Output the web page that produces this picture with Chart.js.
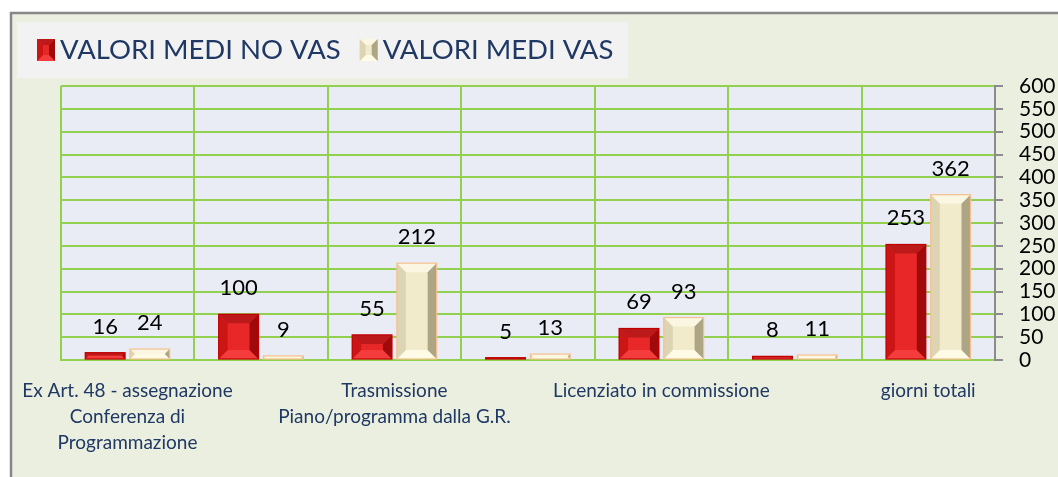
<!DOCTYPE html>
<html>
<head>
<meta charset="utf-8">
<script src="https://cdn.jsdelivr.net/npm/chart.js@4/dist/chart.umd.min.js"></script>
<style>
  html, body { margin: 0; padding: 0; background: #fff; }
  #wrap { position: absolute; left: 0; top: 0; width: 1058px; height: 477px; }
</style>
</head>
<body>
<div id="wrap"><canvas id="chart"></canvas></div>
<script>
// categorie (le etichette vuote sono quelle che Excel non mostra)
const categories = [
  ["Ex Art. 48 - assegnazione", "Conferenza di", "Programmazione"],
  "",
  ["Trasmissione", "Piano/programma dalla G.R."],
  "",
  "Licenziato in commissione",
  "",
  "giorni totali"
];
const seriesNames = ["VALORI MEDI NO VAS", "VALORI MEDI VAS"];
const noVas = [16, 100, 55, 5, 69, 8, 253];
const vas = [24, 9, 212, 13, 93, 11, 362];
const yTicks = { min: 0, max: 600, step: 50 };

const FONT = "Lato, 'Open Sans', sans-serif";
const NAVY = "#1F3864";
const GREEN = "#92D050";

// colori per l'effetto rilievo delle barre
const styles = [
  { base: "#E82828", left: "#CC1616", right: "#A00A0A", top: "#BC1A1A", bottom: "#F53C3C", border: "#C00000" },
  { base: "#F1EACB", left: "#DCD4B2", right: "#ADA584", top: "#FAF6E2", bottom: "#FFFBE6", border: "#F5C08E" }
];

// sfondo della cornice e dell'area del grafico
const backgroundPlugin = {
  id: "bg",
  beforeDraw(chart) {
    const ctx = chart.ctx;
    const a = chart.chartArea;
    ctx.save();
    ctx.fillStyle = "#ffffff";
    ctx.fillRect(0, 0, chart.width, chart.height);
    ctx.fillStyle = "#EBEFDF";
    ctx.fillRect(11, 13, chart.width - 11, chart.height - 13);
    ctx.strokeStyle = "#878787";
    ctx.lineWidth = 2.5;
    ctx.beginPath();
    ctx.moveTo(11, chart.height);
    ctx.lineTo(11, 13);
    ctx.lineTo(chart.width, 13);
    ctx.stroke();
    ctx.fillStyle = "#E9ECF5";
    ctx.fillRect(a.left, a.top, a.right - a.left, a.bottom - a.top);
    ctx.restore();
  }
};

function bevelRect(ctx, x, y, w, h, b, s) {
  ctx.fillStyle = s.base;
  ctx.fillRect(x, y, w, h);
  const poly = (pts, c) => {
    ctx.fillStyle = c;
    ctx.beginPath();
    ctx.moveTo(pts[0][0], pts[0][1]);
    for (let k = 1; k < pts.length; k++) ctx.lineTo(pts[k][0], pts[k][1]);
    ctx.closePath();
    ctx.fill();
  };
  const x1 = x + w, y1 = y + h;
  poly([[x, y], [x1, y], [x1 - b, y + b], [x + b, y + b]], s.top);
  poly([[x, y1], [x1, y1], [x1 - b, y1 - b], [x + b, y1 - b]], s.bottom);
  poly([[x, y], [x + b, y + b], [x + b, y1 - b], [x, y1]], s.left);
  poly([[x1, y], [x1 - b, y + b], [x1 - b, y1 - b], [x1, y1]], s.right);
}

// barre in rilievo + etichette dei valori
const barsPlugin = {
  id: "bars3d",
  afterDatasetsDraw(chart) {
    const ctx = chart.ctx;
    ctx.save();
    chart.data.datasets.forEach((ds, di) => {
      const meta = chart.getDatasetMeta(di);
      const s = styles[di];
      meta.data.forEach((el, i) => {
        const x0 = el.x - el.width / 2;
        const top = Math.min(el.y, el.base);
        const h = Math.abs(el.base - el.y);
        bevelRect(ctx, x0, top, el.width, h, Math.min(9, h / 2, el.width / 4), s);
        ctx.strokeStyle = s.border;
        ctx.lineWidth = 1.2;
        ctx.strokeRect(x0, top, el.width, h);

        ctx.fillStyle = "#000";
        ctx.font = "22px " + FONT;
        ctx.textAlign = "center";
        ctx.textBaseline = "alphabetic";
        ctx.fillText(String(ds.data[i]), el.x, el.y - 19);
      });
    });
    ctx.restore();
  }
};

// legenda disegnata nel riquadro grigio in alto
const legendPlugin = {
  id: "legendBox",
  afterDraw(chart) {
    const ctx = chart.ctx;
    ctx.save();
    ctx.fillStyle = "#F2F2F2";
    ctx.fillRect(17, 22, 611, 56);
    ctx.font = "27.5px " + FONT;
    ctx.textBaseline = "middle";
    ctx.textAlign = "left";
    let x = 37;
    chart.data.datasets.forEach((ds, di) => {
      bevelRect(ctx, x, 39, 18, 22, 6, styles[di]);
      ctx.fillStyle = NAVY;
      ctx.fillText(ds.label, x + 23, 50);
      x += 23 + ctx.measureText(ds.label).width + 19;
    });
    ctx.restore();
  }
};

const ctx = document.getElementById("chart").getContext("2d");
new Chart(ctx, {
  type: "bar",
  data: {
    labels: categories,
    datasets: [
      { label: seriesNames[0], data: noVas, backgroundColor: styles[0].base, categoryPercentage: 0.67, barPercentage: 0.89 },
      { label: seriesNames[1], data: vas, backgroundColor: styles[1].base, categoryPercentage: 0.67, barPercentage: 0.89 }
    ]
  },
  options: {
    responsive: true,
    maintainAspectRatio: false,
    animation: false,
    layout: { padding: { left: 60, top: 86, right: 0, bottom: 0 } },
    plugins: {
      legend: { display: false },
      tooltip: { enabled: false }
    },
    scales: {
      x: {
        grid: { color: GREEN, lineWidth: 2, drawTicks: false, offset: true },
        border: { color: GREEN, width: 2 },
        ticks: {
          autoSkip: false,
          maxRotation: 0,
          padding: 18,
          color: NAVY,
          font: { family: FONT, size: 19, lineHeight: 1.37 }
        },
        afterFit(scale) { scale.height = 117; }
      },
      y: {
        position: "right",
        min: yTicks.min,
        max: yTicks.max,
        grid: { color: GREEN, lineWidth: 2, tickColor: "#8C8C8C", tickLength: 8 },
        border: { color: "#8C8C8C", width: 2 },
        ticks: {
          stepSize: yTicks.step,
          autoSkip: false,
          padding: 16,
          color: "#000",
          font: { family: FONT, size: 21 }
        },
        afterFit(scale) { scale.width = 63; }
      }
    }
  },
  plugins: [backgroundPlugin, barsPlugin, legendPlugin]
});
</script>
</body>
</html>
